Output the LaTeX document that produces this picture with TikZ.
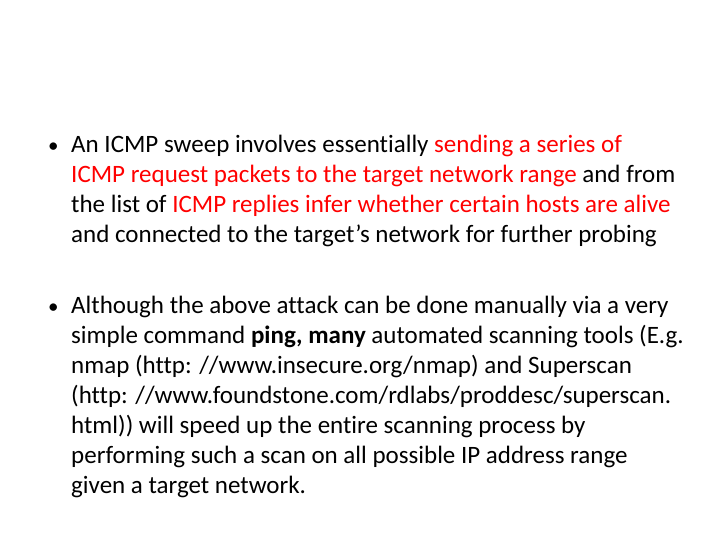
\documentclass[tikz,border=0pt]{standalone}
\usepackage{fontspec}
\setmainfont[Ligatures=NoCommon]{Carlito}
\begin{document}
\begin{tikzpicture}[x=1pt,y=1pt,
    txt/.style={anchor=base west,inner sep=0pt,font=\fontsize{25}{30}\selectfont},
    dot/.style={anchor=base west,inner sep=0pt,font=\fontsize{21}{25}\selectfont}]
  \useasboundingbox (0,0) rectangle (720,540);
  % first bullet
  \node[dot] (b1) at (48,540-153) {\textbullet};
  \node[txt] (p1a) at (71,540-153) {An ICMP sweep involves essentially \textcolor{red}{sending a series of}};
  \node[txt] (p1b) at (71,540-183) {\textcolor{red}{ICMP request packets to the target network range} and from};
  \node[txt] (p1c) at (71,540-213) {the list of \textcolor{red}{ICMP replies infer whether certain hosts are alive}};
  \node[txt] (p1d) at (71,540-243) {and connected to the target’s network for further probing};
  % second bullet
  \node[dot] (b2) at (48,540-314) {\textbullet};
  \node[txt] (p2a) at (71,540-314) {Although the above attack can be done manually via a very};
  \node[txt] (p2b) at (71,540-344) {simple command \textbf{ping, many} automated scanning tools (E.g.};
  \node[txt] (p2c) at (71,540-374) {nmap (http: //www.insecure.org/nmap) and Superscan};
  \node[txt] (p2d) at (71,540-404) {(http: //www.foundstone.com/rdlabs/proddesc/superscan.};
  \node[txt] (p2e) at (71,540-434) {html)) will speed up the entire scanning process by};
  \node[txt] (p2f) at (71,540-464) {performing such a scan on all possible IP address range};
  \node[txt] (p2g) at (71,540-494) {given a target network.};
\end{tikzpicture}
\end{document}
